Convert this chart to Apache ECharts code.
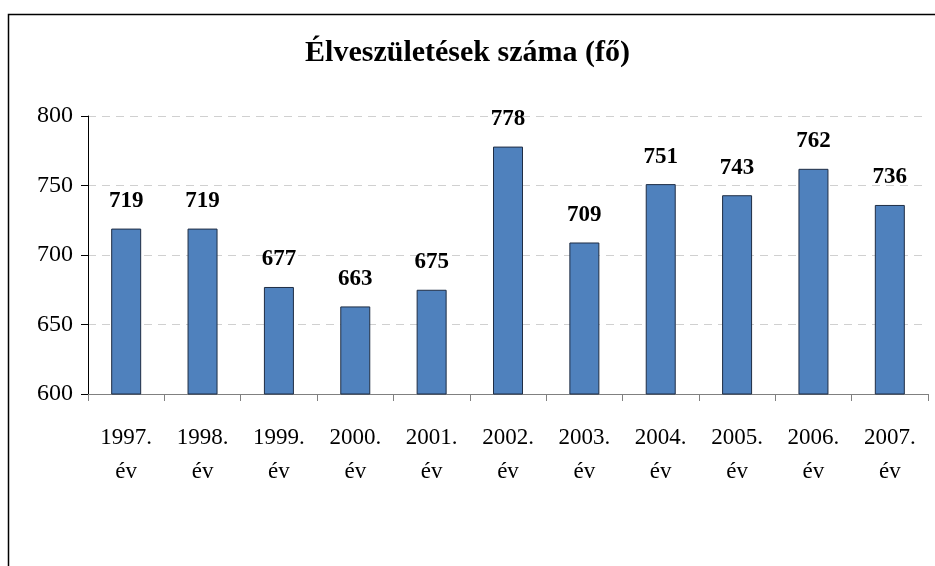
<!DOCTYPE html>
<html>
<head>
<meta charset="utf-8">
<script src="https://cdn.jsdelivr.net/npm/echarts@6/dist/echarts.min.js"></script>
<style>
  html, body { margin: 0; padding: 0; background: #fff; }
  #main { width: 935px; height: 566px; }
</style>
</head>
<body>
<div id="main"></div>
<script>
// Élveszületések száma évenként
var years = ['1997.\név', '1998.\név', '1999.\név', '2000.\név', '2001.\név', '2002.\név',
  '2003.\név', '2004.\név', '2005.\név', '2006.\név', '2007.\név'];
var births = [719, 719, 677, 663, 675, 778, 709, 751, 743, 762, 736];

var serif = '"Liberation Serif", "Times New Roman", serif';

var chart = echarts.init(document.getElementById('main'));

var option = {
  backgroundColor: '#fff',
  animation: false,
  title: {
    text: 'Élveszületések száma (fő)',
    left: 'center',
    top: 33,
    textStyle: {
      fontFamily: serif,
      fontSize: 30,
      fontWeight: 'bold',
      color: '#000'
    }
  },
  // keret
  graphic: [{
    type: 'rect',
    shape: { x: 8.5, y: 14.5, width: 1000, height: 700 },
    style: { fill: 'none', stroke: '#000', lineWidth: 1.5 },
    silent: true
  }],
  grid: {
    left: 88,
    right: 7,
    top: 116,
    bottom: 172
  },
  xAxis: {
    type: 'category',
    data: years,
    axisLine: { lineStyle: { color: '#808080', width: 1 } },
    axisTick: { show: true, length: 7, lineStyle: { color: '#808080' } },
    axisLabel: {
      fontFamily: serif,
      fontSize: 23,
      color: '#000',
      lineHeight: 34,
      margin: 27
    }
  },
  yAxis: {
    type: 'value',
    min: 600,
    max: 800,
    interval: 50,
    axisLine: { show: true, lineStyle: { color: '#000', width: 1 } },
    axisTick: { show: true, length: 7, lineStyle: { color: '#000' } },
    splitLine: { lineStyle: { color: '#d0d0d0', type: [8, 6] } },
    axisLabel: {
      fontFamily: serif,
      fontSize: 24,
      color: '#000',
      margin: 15
    }
  },
  series: [{
    type: 'bar',
    data: births,
    barWidth: 30,
    itemStyle: {
      color: '#4f81bd',
      borderColor: '#1f2d44',
      borderWidth: 1
    },
    label: {
      show: true,
      position: 'top',
      distance: 16,
      fontFamily: serif,
      fontSize: 23,
      fontWeight: 'bold',
      color: '#000'
    }
  }]
};

chart.setOption(option);
</script>
</body>
</html>
